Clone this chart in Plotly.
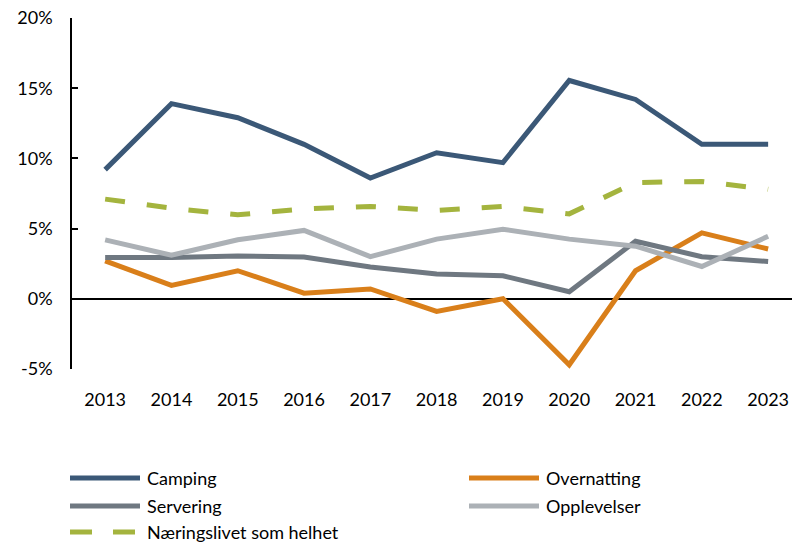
import plotly.graph_objects as go

years = [2013, 2014, 2015, 2016, 2017, 2018, 2019, 2020, 2021, 2022, 2023]
camping = [9.2, 13.9, 12.9, 11.0, 8.6, 10.4, 9.7, 15.55, 14.2, 11.0, 11.0]
overnatting = [2.7, 0.95, 2.0, 0.4, 0.7, -0.9, 0.0, -4.7, 2.0, 4.7, 3.55]
servering = [2.95, 2.95, 3.05, 2.97, 2.26, 1.76, 1.64, 0.5, 4.1, 3.0, 2.66]
opplevelser = [4.2, 3.1, 4.2, 4.87, 3.0, 4.25, 4.95, 4.25, 3.75, 2.3, 4.45]
naeringslivet = [7.1, 6.45, 5.98, 6.4, 6.58, 6.3, 6.58, 6.05, 8.28, 8.36, 7.8]

y_ticks = [-5, 0, 5, 10, 15, 20]
y_ticklabels = ["-5%", "0%", "5%", "10%", "15%", "20%"]

series = [
    ("Camping", camping, "#3B5877", "solid"),
    ("Overnatting", overnatting, "#D97F1A", "solid"),
    ("Servering", servering, "#6F7881", "solid"),
    ("Opplevelser", opplevelser, "#ACB1B6", "solid"),
    ("Næringslivet som helhet", naeringslivet, "#A4B43E", "20px,22px"),
]

FONT = "Lato"
W, H = 792, 543
L, R, T = 72, 0, 18
PH = 351
B = H - T - PH
PW = W - L - R

fig = go.Figure()
for name, vals, color, dash in series:
    fig.add_trace(go.Scatter(
        x=years, y=vals, mode="lines", name=name,
        line=dict(color=color, width=5, dash=dash),
        showlegend=False,
    ))

def px2paper_x(px):
    return (px - L) / PW

def px2paper_y(py):
    return (T + PH - py) / PH

legend_items = [
    ("Camping", "#3B5877", "solid", 70, 478),
    ("Overnatting", "#D97F1A", "solid", 469, 478),
    ("Servering", "#6F7881", "solid", 70, 506),
    ("Opplevelser", "#ACB1B6", "solid", 469, 506),
    ("Næringslivet som helhet", "#A4B43E", "22px,21px", 70, 532),
]
shapes = []
annotations = []
for name, color, dash, lx, ly in legend_items:
    shapes.append(dict(
        type="line", xref="paper", yref="paper",
        x0=px2paper_x(lx), x1=px2paper_x(lx + 70),
        y0=px2paper_y(ly), y1=px2paper_y(ly),
        line=dict(color=color, width=5, dash=dash),
    ))
    annotations.append(dict(
        text=name, xref="paper", yref="paper",
        x=px2paper_x(lx + 75), y=px2paper_y(ly),
        xanchor="left", yanchor="middle", showarrow=False,
        font=dict(family=FONT, size=18, color="black"),
    ))

fig.update_layout(
    width=W, height=H,
    margin=dict(l=L, r=R, t=T, b=B, pad=0),
    paper_bgcolor="white", plot_bgcolor="white",
    font=dict(family=FONT, size=18, color="black"),
    shapes=shapes, annotations=annotations,
    showlegend=False,
)
fig.update_xaxes(
    range=[2012.5, 2023.36], tickvals=years, ticktext=[str(y) for y in years],
    showgrid=False, showline=False, zeroline=False, ticks="",
    ticklabelstandoff=18, ticklabeloverflow="allow",
    tickfont=dict(family=FONT, size=18, color="black"),
)
fig.update_yaxes(
    range=[-5, 20], tickvals=y_ticks, ticktext=y_ticklabels,
    showgrid=False, showline=True, linecolor="black", linewidth=1.5,
    ticks="inside", ticklen=6, tickwidth=1.5, tickcolor="black",
    zeroline=True, zerolinecolor="black", zerolinewidth=1.5,
    ticklabelstandoff=14, ticklabeloverflow="allow",
    tickfont=dict(family=FONT, size=18, color="black"),
)

fig.write_html(
    "out.html",
    config={"displayModeBar": False},
    post_script="document.body.style.margin='0';document.body.style.overflow='hidden';",
)
